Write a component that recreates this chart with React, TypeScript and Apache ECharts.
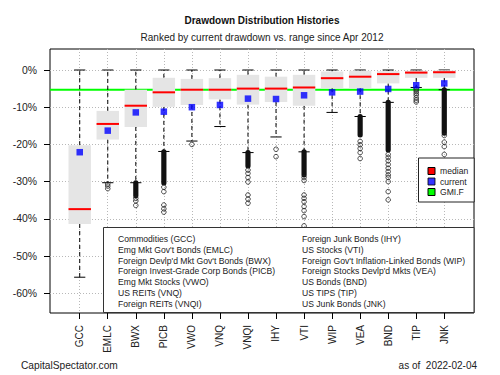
import React, { useEffect, useRef } from 'react';
import * as echarts from 'echarts';

const FONT = '"Liberation Sans", Arial, sans-serif';

const tickers = ['GCC', 'EMLC', 'BWX', 'PICB', 'VWO', 'VNQ', 'VNQI', 'IHY', 'VTI', 'WIP', 'VEA', 'BND', 'TIP', 'JNK'];

// drawdown box statistics, in percent
const whiskerLow = [-55.7, -30.3, -30.3, -21.9, -19.1, -15.2, -22.2, -18.0, -22.0, -11.4, -12.5, -8.7, -4.7, -5.3];
const boxBottom = [-41.4, -18.7, -15.3, -9.9, -9.4, -7.9, -9.3, -8.6, -9.6, -4.9, -4.9, -3.6, -2.1, -2.1];
const medians = [-37.4, -14.5, -9.6, -6.0, -5.3, -5.3, -5.0, -5.0, -4.7, -2.2, -1.8, -1.1, -0.7, -0.6];
const boxTop = [-20.2, -11.0, -5.3, -2.1, -2.4, -2.2, -1.3, -1.8, -1.3, -0.4, -0.2, -0.3, -0.2, -0.1];
const whiskerHigh = [0, 0, 0, 0, 0, 0, 0, 0, 0, 0, 0, 0, 0, 0];
const current = [-22.1, -16.3, -11.4, -11.2, -10.0, -9.4, -7.7, -7.8, -6.8, -6.0, -5.8, -5.1, -4.1, -3.6];
const gmiF = -5.3;

// dense outlier clouds (too packed to separate single points), in percent
const denseTop: (number | null)[] = [null, null, -30.3, -22.0, null, null, -22.2, null, -22.0, null, -12.5, -8.7, null, -5.3];
const denseBottom: (number | null)[] = [null, null, -33.8, -30.4, null, null, -25.8, null, -28.2, null, -17.5, -21.5, null, -17.0];

// separate outliers, in percent
const outliers: number[][] = [
  [],
  [-30.6, -31.2, -31.9],
  [-34.5, -35.2, -36.4],
  [-31.5, -32.7, -36.3, -37.3, -38.2],
  [-20.0],
  [],
  [-26.9, -27.8, -28.9, -30.1, -33.6, -34.7, -35.8],
  [-21.3, -23.3],
  [-28.9, -29.7, -33.6, -34.5, -35.4, -36.7, -37.8, -39.4, -41.9],
  [],
  [-19.2, -20.1, -21.1, -22.2, -23.8],
  [-22.7, -23.5, -24.4, -25.4, -26.4, -27.3, -28.2, -28.9, -30.0, -32.7, -34.9],
  [-5.0, -5.4, -5.8, -6.3, -6.8, -7.5, -8.1, -8.6],
  [-17.6, -19.4, -20.6, -22.7],
];

const yTicks = [0, -10, -20, -30, -40, -50, -60];

const namesLeft = [
  'Commodities (GCC)',
  "Emg Mkt Gov't Bonds (EMLC)",
  "Foreign Devlp'd Mkt Gov't Bonds (BWX)",
  'Foreign Invest-Grade Corp Bonds (PICB)',
  'Emg Mkt Stocks (VWO)',
  'US REITs (VNQ)',
  'Foreign REITs (VNQI)',
];
const namesRight = [
  'Foreign Junk Bonds (IHY)',
  'US Stocks (VTI)',
  "Foreign Gov't Inflation-Linked Bonds (WIP)",
  "Foreign Stocks Devlp'd Mkts (VEA)",
  'US Bonds (BND)',
  'US TIPS (TIP)',
  'US Junk Bonds (JNK)',
];

export default function App() {
  const ref = useRef<HTMLDivElement>(null);

  useEffect(() => {
    if (!ref.current) return;
    const chart = echarts.init(ref.current, null, { renderer: 'svg' });

    const boxData = tickers.map((_, i) => [
      i + 1,
      whiskerLow[i] / 100,
      boxBottom[i] / 100,
      medians[i] / 100,
      boxTop[i] / 100,
      whiskerHigh[i] / 100,
    ]);
    const currentData = tickers.map((_, i) => [i + 1, current[i] / 100]);
    const outlierData: number[][] = [];
    outliers.forEach((list, i) => list.forEach((v) => outlierData.push([i + 1, v / 100])));
    const denseData: number[][] = [];
    tickers.forEach((_, i) => {
      const a = denseTop[i];
      const b = denseBottom[i];
      if (a !== null && b !== null) denseData.push([i + 1, a / 100, b / 100]);
    });

    const dotted = { show: true, lineStyle: { color: '#b8b8b8', type: [1, 2] as any, width: 1 } };
    const lineH = 10.8;

    const textLines: any[] = [];
    namesLeft.forEach((t, i) =>
      textLines.push({
        type: 'text', z: 101,
        style: { text: t, x: 118, y: 239 + i * lineH, fill: '#222', fontSize: 8.6, fontFamily: FONT, align: 'left', verticalAlign: 'middle' },
      })
    );
    namesRight.forEach((t, i) =>
      textLines.push({
        type: 'text', z: 101,
        style: { text: t, x: 302, y: 239 + i * lineH, fill: '#222', fontSize: 8.6, fontFamily: FONT, align: 'left', verticalAlign: 'middle' },
      })
    );

    const option: any = {
      animation: false,
      backgroundColor: '#fff',
      textStyle: { fontFamily: FONT },
      grid: [
        { left: 50, right: 26, top: 49, bottom: 62, show: true, borderColor: '#000', borderWidth: 1, backgroundColor: 'transparent' },
        { left: 50, right: 26, top: 70, bottom: 375 - (70 + 0.6 * 372) },
        { left: 79.7, right: 500 - 444.2, top: 49, bottom: 62 },
      ],
      xAxis: [
        { gridIndex: 0, type: 'value', min: -0.06, max: 15.06, show: false },
        { gridIndex: 1, type: 'value', min: 0, max: 1, show: false },
        {
          gridIndex: 2, type: 'value', min: 1, max: 14, interval: 1,
          axisLine: { show: false },
          axisTick: { show: true, inside: false, length: 6, lineStyle: { color: '#000' } },
          axisLabel: {
            rotate: 90, margin: 12, fontSize: 10, color: '#222', fontFamily: FONT,
            showMinLabel: true, showMaxLabel: true,
            formatter: (v: number) => tickers[Math.round(v) - 1] ?? '',
          },
          splitLine: dotted,
        },
      ],
      yAxis: [
        { gridIndex: 0, type: 'value', min: -243 / 372, max: 21 / 372, show: false },
        {
          gridIndex: 1, type: 'value', min: yTicks[yTicks.length - 1] / 100, max: yTicks[0] / 100, interval: 0.1,
          axisLine: { show: false },
          axisTick: { show: true, inside: false, length: 6, lineStyle: { color: '#000' } },
          axisLabel: {
            margin: 13, fontSize: 10.4, color: '#222', fontFamily: FONT,
            formatter: (v: number) => `${Math.round(v * 100)}%`,
          },
          splitLine: dotted,
        },
        { gridIndex: 2, type: 'value', min: 0, max: 1, show: false },
      ],
      legend: {
        left: 418.5, top: 158, orient: 'vertical',
        itemWidth: 7, itemHeight: 7, itemGap: 0.5,
        padding: [8, 6, 5, 9],
        backgroundColor: '#fff', borderColor: '#222', borderWidth: 1,
        selectedMode: false,
        textStyle: { fontSize: 8.6, color: '#222', fontFamily: FONT, lineHeight: 10 },
        data: [
          { name: 'median', icon: 'rect', itemStyle: { color: '#ff0000', borderColor: '#000', borderWidth: 1 } },
          { name: 'current', icon: 'rect', itemStyle: { color: '#0000ff', borderColor: '#000', borderWidth: 1 } },
          { name: 'GMI.F', icon: 'rect', itemStyle: { color: '#00ff00', borderColor: '#000', borderWidth: 1 } },
        ],
      },
      graphic: [
        {
          type: 'text', z: 101,
          style: { text: 'Drawdown Distribution Histories', x: 262, y: 20, fill: '#111', fontSize: 10, fontWeight: 'bold', fontFamily: FONT, align: 'center', verticalAlign: 'middle' },
        },
        {
          type: 'text', z: 101,
          style: { text: 'Ranked by current drawdown vs. range since Apr 2012', x: 262, y: 37.5, fill: '#222', fontSize: 10, fontFamily: FONT, align: 'center', verticalAlign: 'middle' },
        },
        {
          type: 'rect', z: 100,
          shape: { x: 103.5, y: 227.5, width: 370.5, height: 85 },
          style: { fill: '#fff', stroke: '#333', lineWidth: 1 },
        },
        ...textLines,
        {
          type: 'text', z: 101,
          style: { text: 'CapitalSpectator.com', x: 21, y: 365, fill: '#222', fontSize: 10.2, fontFamily: FONT, align: 'left', verticalAlign: 'middle' },
        },
        {
          type: 'text', z: 101,
          style: { text: 'as of  2022-02-04', x: 477, y: 365, fill: '#222', fontSize: 10, fontFamily: FONT, align: 'right', verticalAlign: 'middle' },
        },
      ],
      series: [
        {
          name: 'GMI.F', type: 'line', xAxisIndex: 0, yAxisIndex: 0, z: 1,
          symbol: 'none', silent: true,
          data: [[-0.06, gmiF / 100], [15.06, gmiF / 100]],
          lineStyle: { color: '#00ff00', width: 2 },
          itemStyle: { color: '#00ff00' },
        },
        {
          name: 'median', type: 'custom', xAxisIndex: 0, yAxisIndex: 0, z: 2,
          itemStyle: { color: '#ff0000' },
          encode: { x: 0, y: [1, 2, 3, 4, 5] },
          data: boxData,
          renderItem: (_p: any, api: any) => {
            const pos = api.value(0);
            const half = api.size([0.4, 0])[0];
            const cap = api.size([0.2, 0])[0];
            const cx = api.coord([pos, 0])[0];
            const yLo = api.coord([pos, api.value(1)])[1];
            const yQ1 = api.coord([pos, api.value(2)])[1];
            const yMed = api.coord([pos, api.value(3)])[1];
            const yQ3 = api.coord([pos, api.value(4)])[1];
            const yHi = api.coord([pos, api.value(5)])[1];
            const dash = { stroke: '#000', lineWidth: 1, lineDash: [4, 3] };
            const solid = { stroke: '#000', lineWidth: 1 };
            return {
              type: 'group',
              children: [
                { type: 'line', shape: { x1: cx, y1: yQ1, x2: cx, y2: yLo }, style: dash },
                { type: 'line', shape: { x1: cx, y1: yQ3, x2: cx, y2: yHi }, style: dash },
                { type: 'line', shape: { x1: cx - cap, y1: yLo, x2: cx + cap, y2: yLo }, style: solid },
                { type: 'line', shape: { x1: cx - cap, y1: yHi, x2: cx + cap, y2: yHi }, style: solid },
                { type: 'rect', shape: { x: cx - half, y: yQ3, width: half * 2, height: yQ1 - yQ3 }, style: { fill: '#e5e5e5' } },
                { type: 'line', shape: { x1: cx - half, y1: yMed, x2: cx + half, y2: yMed }, style: { stroke: '#ff0000', lineWidth: 2 } },
              ],
            };
          },
        },
        {
          name: 'dense', type: 'custom', xAxisIndex: 0, yAxisIndex: 0, z: 3,
          encode: { x: 0, y: [1, 2] },
          data: denseData,
          renderItem: (_p: any, api: any) => {
            const pos = api.value(0);
            const [cx, y1] = api.coord([pos, api.value(1)]);
            const y2 = api.coord([pos, api.value(2)])[1];
            return {
              type: 'rect',
              shape: { x: cx - 2.6, y: y1 - 2.5, width: 5.2, height: y2 - y1 + 5, r: 2.5 },
              style: { fill: '#111' },
            };
          },
        },
        {
          name: 'outliers', type: 'scatter', xAxisIndex: 0, yAxisIndex: 0, z: 3,
          symbol: 'circle', symbolSize: 4.6,
          itemStyle: { color: 'rgba(255,255,255,0)', borderColor: '#222', borderWidth: 1 },
          data: outlierData,
        },
        {
          name: 'current', type: 'scatter', xAxisIndex: 0, yAxisIndex: 0, z: 5,
          symbol: 'rect', symbolSize: 6.5,
          itemStyle: { color: '#0000ff' },
          data: currentData,
        },
      ],
    };

    chart.setOption(option);
    return () => chart.dispose();
  }, []);

  return <div ref={ref} style={{ position: 'absolute', left: 0, top: 0, width: 500, height: 375 }} />;
}
